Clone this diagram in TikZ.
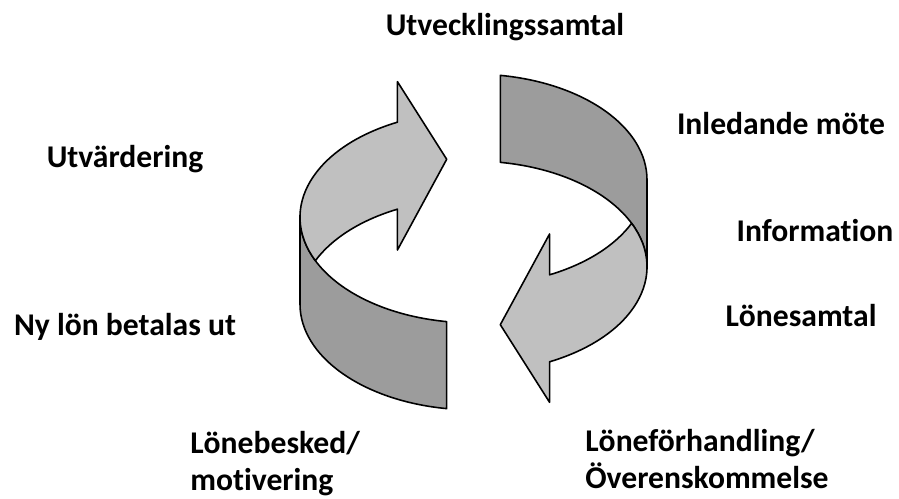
\documentclass[tikz,border=0pt]{standalone}
\usepackage{fontspec}
\setmainfont{Carlito}[Ligatures=NoCommon]
\definecolor{lightband}{RGB}{192,192,192}
\definecolor{darkband}{RGB}{156,156,156}

\begin{document}
\begin{tikzpicture}[x=0.02cm, y=0.02cm, line join=round,
    band/.style={line width=0.9pt, draw=black},
    lbl/.style={font=\bfseries\fontsize{18}{21}\selectfont, inner sep=0pt}]
        \useasboundingbox (0,0) rectangle (899,499);
        \foreach \rot in {0,180} {
            \begin{scope}[rotate around={\rot:(473.5,257)}]
                % dark side of the band
                \draw[band, fill=darkband] (300,281.8) -- (300,194.8)
                    arc[start angle=180, end angle=261.1, x radius=173.5, y radius=105.7]
                    -- (446.66,177.37)
                    arc[start angle=261.1, end angle=180, x radius=173.5, y radius=105.7] -- cycle;
                % light arrow
                \draw[band, fill=lightband] (397.44,376.8)
                    arc[start angle=116, end angle=204.3, x radius=173.5, y radius=105.7]
                    arc[start angle=155.7, end angle=116, x radius=173.5, y radius=105.7]
                    -- (397.44,249) -- (446.7,339.7) -- (397.44,417.3) -- cycle;
            \end{scope}
        }
        \node[lbl] (utv) at (505,472) {Utvecklingssamtal};
        \node[lbl] (inl) at (781,375) {Inledande möte};
        \node[lbl] (utvd) at (125,340) {Utvärdering};
        \node[lbl] (inf) at (815,268) {Information};
        \node[lbl] (nyl) at (125,172) {Ny lön betalas ut};
        \node[lbl] (lsa) at (801,183) {Lönesamtal};
        \node[lbl, anchor=west, align=left] (lbe) at (190,35.5) {Lönebesked/\\motivering};
        \node[lbl, anchor=west, align=left] (lfh) at (585,40) {Löneförhandling/\\Överenskommelse};
    \end{tikzpicture}
\end{document}
